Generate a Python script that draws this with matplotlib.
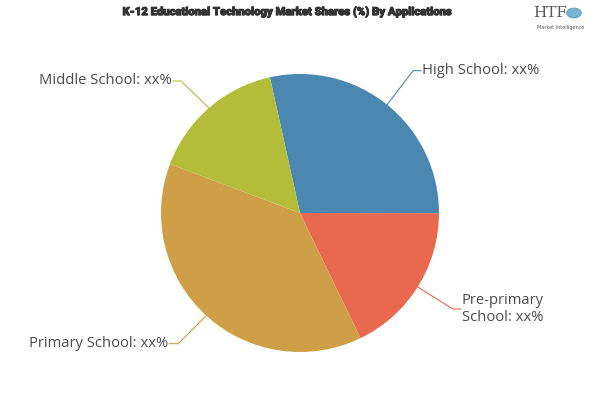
import matplotlib.pyplot as plt
import matplotlib.patheffects as pe
import numpy as np

# shares in percent
categories = ["High School", "Pre-primary\nSchool", "Primary School", "Middle School"]
shares = [28.5, 17.8, 37.9, 15.8]
colors = ["#4a88b2", "#e8694e", "#cf9f48", "#b3bd3a"]

fig = plt.figure(figsize=(6, 4), dpi=100)
fig.patch.set_facecolor("white")

# axes placed so the pie sits at (300, 213) px with a 139 px radius
ax = fig.add_axes([(300 - 139) / 600, (400 - 213 - 139) / 400, 278 / 600, 278 / 400])
wedges, _ = ax.pie(shares, colors=colors, startangle=102.5, counterclock=False,
                   radius=1.0, wedgeprops=dict(linewidth=0))
ax.set_xlim(-1, 1)
ax.set_ylim(-1, 1)
ax.set_aspect("equal")
ax.axis("off")

px = 1 / 139.0  # one pixel in data units

# (elbow dx, elbow dy, horizontal run) in pixels, per slice
leaders = [(26, 34, 8), (35, -22, 8), (-28, -28, -9), (-28, 27, -8)]

for w, lab, col, (ex, ey, run) in zip(wedges, categories, colors, leaders):
    mid = np.deg2rad((w.theta1 + w.theta2) / 2)
    x0, y0 = np.cos(mid) * 1.0, np.sin(mid) * 1.0
    x1, y1 = x0 + ex * px, y0 + ey * px
    x2 = x1 + run * px
    ax.plot([x0, x1, x2], [y0, y1, y1], color=col, lw=0.8, clip_on=False)
    ha = "left" if run > 0 else "right"
    ax.text(x2 + (1 if run > 0 else -1) * px, y1, lab + ": xx%",
            ha=ha, va="center", fontsize=10.6, color="#4a4a4a", family="Open Sans",
            linespacing=1.15, clip_on=False)

fig.text(287 / 600, 1 - 12 / 400, "K-12 Educational Technology Market Shares (%) By Applications",
         ha="center", va="center", fontsize=8.1, fontweight="heavy", fontstretch="condensed",
         color="#333333", family=["Roboto", "DejaVu Sans"],
         path_effects=[pe.withStroke(linewidth=0.7, foreground="#333333")])

# logo
fig.text(550 / 600, 1 - 13 / 400, "HTF", ha="center", va="center", fontsize=11,
         color="#555555", family="DejaVu Serif")
fig.text(561 / 600, 1 - 27 / 400, "Market Intelligence", ha="center", va="center",
         fontsize=3.5, color="#555555")
fig.patches.append(plt.Circle((574 / 600, 1 - 13 / 400), 0.012, transform=fig.transFigure,
                              color="#5aa0c8", alpha=0.8))

fig.savefig("out.png", dpi=100)
